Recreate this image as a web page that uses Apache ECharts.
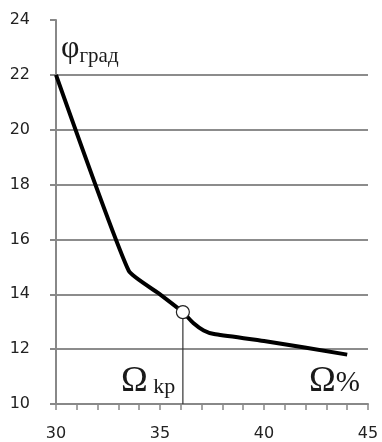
<!DOCTYPE html>
<html><head><meta charset="utf-8">
<script src="https://cdn.jsdelivr.net/npm/echarts@6/dist/echarts.min.js"></script>
<style>html,body{margin:0;padding:0;background:#fff}#c{width:382px;height:442px}</style>
</head><body><div id="c"></div>
<script>
const omega = [30, 33.5, 35.0, 36.1, 36.6, 37.1, 37.6, 40.0, 44.0];
const phi   = [22, 14.85, 14.0, 13.35, 12.95, 12.68, 12.55, 12.3, 11.8];
const critical = [36.1, 13.35];
const yTicks = [10, 12, 14, 16, 18, 20, 22, 24];
const xLabels = [30, 35, 40, 45];

const chart = echarts.init(document.getElementById('c'), null, {renderer: 'canvas'});
chart.setOption({
  animation: false,
  grid: {left: 56, right: 14, top: 20, bottom: 38, outerBoundsMode: 'none'},
  xAxis: {
    type: 'value', min: 30, max: 45, interval: 1,
    axisLine: {show: true, lineStyle: {color: '#888', width: 2}},
    axisTick: {show: true, length: 6, lineStyle: {color: '#888', width: 1.5}},
    splitLine: {show: false},
    axisLabel: {
      margin: 22, color: '#222', fontSize: 16, fontFamily: 'DejaVu Sans',
      formatter: v => xLabels.includes(v) ? String(v) : ''
    }
  },
  yAxis: {
    type: 'value', min: yTicks[0], max: yTicks[yTicks.length - 1], interval: 2,
    axisLine: {show: true, lineStyle: {color: '#888', width: 2}},
    axisTick: {show: true, length: 6, lineStyle: {color: '#888', width: 2}},
    splitLine: {show: true, showMinLine: false, showMaxLine: false, lineStyle: {color: '#8c8c8c', width: 2}},
    axisLabel: {margin: 26, color: '#222', fontSize: 16, fontFamily: 'DejaVu Sans', align: 'right'}
  },
  series: [
    {
      type: 'line',
      data: [[critical[0], critical[1]], [critical[0], yTicks[0]]],
      symbol: 'none',
      lineStyle: {color: '#333', width: 1.2},
      z: 2
    },
    {
      type: 'line',
      data: omega.map((x, i) => [x, phi[i]]),
      symbol: 'none',
      smooth: 0.15,
      lineStyle: {color: '#000', width: 4},
      z: 3
    },
    {
      type: 'scatter',
      data: [critical],
      symbol: 'circle',
      symbolSize: 13,
      itemStyle: {color: '#fff', borderColor: '#222', borderWidth: 1.2, opacity: 1},
      z: 4
    }
  ],
  graphic: [
    {type: 'text', left: 61, top: 33, style: {
      text: '{a|φ}{b|град}',
      rich: {
        a: {fontFamily: 'Liberation Serif', fontSize: 32, fill: '#1a1a1a'},
        b: {fontFamily: 'Liberation Serif', fontSize: 21, fill: '#1a1a1a', padding: [14, 0, 0, 0]}
      }
    }},
    {type: 'text', left: 121, top: 364, style: {
      text: '{a|Ω}{b| kp}',
      rich: {
        a: {fontFamily: 'Liberation Serif', fontSize: 36, fill: '#1a1a1a'},
        b: {fontFamily: 'Liberation Serif', fontSize: 22, fill: '#1a1a1a', padding: [10, 0, 0, 0]}
      }
    }},
    {type: 'text', left: 309, top: 364, style: {
      text: '{a|Ω}{b|%}',
      rich: {
        a: {fontFamily: 'Liberation Serif', fontSize: 36, fill: '#1a1a1a'},
        b: {fontFamily: 'Liberation Serif', fontSize: 29, fill: '#1a1a1a', padding: [2, 0, 0, 0]}
      }
    }}
  ]
});
</script></body></html>
